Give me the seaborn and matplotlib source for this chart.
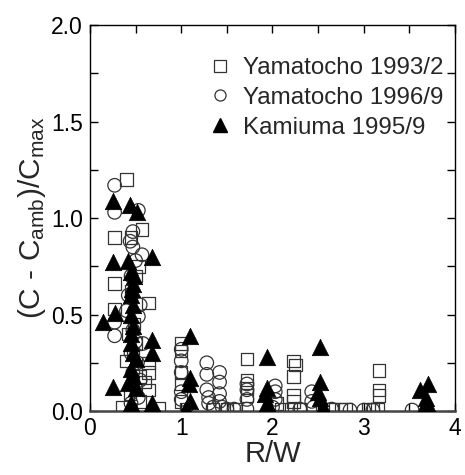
import numpy as np
import pandas as pd
import seaborn as sns
import matplotlib
matplotlib.use("Agg")
import matplotlib.pyplot as plt
from matplotlib.ticker import MultipleLocator, FormatStrFormatter
from matplotlib.lines import Line2D

# Yamatocho 1993/2
sq_x = [0.40, 0.27, 0.45, 0.57, 0.53, 0.27, 0.27, 0.64, 0.45, 0.50, 0.48, 0.40,
        0.64, 0.64, 0.64, 0.55, 0.44, 0.75, 0.50, 0.47, 0.60, 0.42, 0.55, 0.35,
        1.00, 1.00, 1.00, 1.00, 1.00, 1.05, 1.35, 1.50, 1.60,
        1.72, 1.72, 1.72, 1.72, 2.05, 2.10,
        2.23, 2.25, 2.23, 2.23, 2.23, 2.20, 2.30,
        2.55, 2.65, 2.75, 2.80, 3.05, 3.10, 3.17, 3.17, 3.17, 3.15]
sq_y = [1.20, 0.90, 0.90, 0.94, 0.75, 0.66, 0.53, 0.56, 0.62, 0.70, 0.45, 0.26,
        0.25, 0.20, 0.11, 0.18, 0.09, 0.015, 0.35, 0.30, 0.15, 0.40, 0.05, 0.02,
        0.35, 0.31, 0.20, 0.14, 0.05, 0.01, 0.01, 0.01, 0.01,
        0.27, 0.16, 0.12, 0.08, 0.04, 0.01,
        0.26, 0.24, 0.18, 0.08, 0.05, 0.01, 0.01,
        0.01, 0.01, 0.01, 0.01, 0.01, 0.01, 0.21, 0.11, 0.08, 0.01]

# Yamatocho 1996/9
ci_x = [0.27, 0.27, 0.53, 0.47, 0.44, 0.47, 0.57, 0.50, 0.45, 0.42, 0.55, 0.27,
        0.47, 0.53, 0.27, 0.50, 0.45, 0.52, 0.47, 0.55, 0.50, 0.53, 0.45, 0.58, 0.40,
        1.00, 1.00, 1.00, 1.00, 1.00,
        1.28, 1.28, 1.28, 1.30, 1.30, 1.35,
        1.42, 1.42, 1.42, 1.42, 1.45, 1.50, 1.58,
        1.72, 1.72, 1.72, 1.72, 2.03, 2.03, 2.03, 2.00,
        2.30, 2.43, 2.43, 2.45, 2.65, 2.85, 3.00, 3.10, 3.53]
ci_y = [1.17, 1.03, 1.04, 0.93, 0.88, 0.85, 0.81, 0.78, 0.70, 0.60, 0.55, 0.46,
        0.42, 0.49, 0.39, 0.36, 0.30, 0.25, 0.20, 0.16, 0.12, 0.07, 0.04, 0.35, 0.52,
        0.32, 0.26, 0.20, 0.10, 0.06,
        0.25, 0.19, 0.11, 0.07, 0.04, 0.02,
        0.20, 0.15, 0.09, 0.05, 0.02, 0.01, 0.01,
        0.14, 0.11, 0.06, 0.01, 0.13, 0.10, 0.06, 0.02,
        0.01, 0.10, 0.05, 0.02, 0.01, 0.005, 0.005, 0.005, 0.005]

# Kamiuma 1995/9
tr_x = [0.25, 0.44, 0.51, 0.25, 0.42, 0.68, 0.45, 0.47, 0.45, 0.47, 0.14, 0.27,
        0.45, 0.47, 0.45, 0.68, 0.45, 0.47, 0.50, 0.68, 0.45, 0.47, 0.25, 0.42,
        0.50, 0.45, 0.68, 0.46, 0.48,
        1.10, 1.10, 1.08, 1.10, 1.05,
        1.94, 1.94, 1.92, 1.94,
        2.52, 2.52, 2.50, 2.52, 2.55,
        3.62, 3.70, 3.68, 3.70, 3.65]
tr_y = [1.09, 1.07, 1.03, 0.77, 0.78, 0.80, 0.72, 0.66, 0.60, 0.55, 0.46, 0.51,
        0.50, 0.44, 0.40, 0.37, 0.35, 0.30, 0.27, 0.30, 0.22, 0.18, 0.125, 0.145,
        0.12, 0.04, 0.04, 0.63, 0.70,
        0.39, 0.17, 0.14, 0.05, 0.01,
        0.28, 0.12, 0.09, 0.04,
        0.33, 0.15, 0.10, 0.07, 0.02,
        0.11, 0.14, 0.07, 0.03, 0.01]

labels = ["Yamatocho 1993/2", "Yamatocho 1996/9", "Kamiuma 1995/9"]

sns.set_style("ticks")
plt.rcParams["font.family"] = ["Liberation Sans", "DejaVu Sans"]
plt.rcParams["mathtext.fontset"] = "custom"
plt.rcParams["mathtext.rm"] = "Liberation Sans"
plt.rcParams["mathtext.it"] = "Liberation Sans"

fig = plt.figure(figsize=(4.65, 4.75), dpi=100)
ax = fig.add_axes([0.1935, 0.1347, 0.785, 0.8123])

edge = "#333333"
sns.scatterplot(x=sq_x, y=sq_y, ax=ax, marker="s", s=80, facecolor="none",
                edgecolor=edge, linewidth=0.9, zorder=3)
sns.scatterplot(x=ci_x, y=ci_y, ax=ax, marker="o", s=95, facecolor="none",
                edgecolor=edge, linewidth=0.9, zorder=3)
sns.scatterplot(x=tr_x, y=tr_y, ax=ax, marker="^", s=140, color="black",
                edgecolor="black", linewidth=0.5, zorder=4)

ax.set_xlim(0, 4)
ax.set_ylim(0, 2.0)
ax.xaxis.set_major_locator(MultipleLocator(1))
ax.xaxis.set_minor_locator(MultipleLocator(0.5))
ax.yaxis.set_major_locator(MultipleLocator(0.5))
ax.yaxis.set_minor_locator(MultipleLocator(0.25))
ax.yaxis.set_major_formatter(FormatStrFormatter("%.1f"))
ax.tick_params(which="both", direction="in", top=True, right=True,
               labelsize=16.5, colors="black")
ax.tick_params(axis="y", which="both", pad=5)
ax.tick_params(axis="x", which="both", pad=4)
ax.tick_params(which="major", length=6, width=1)
ax.tick_params(which="minor", length=6, width=1)
for side in ["left", "right", "top"]:
    ax.spines[side].set_linewidth(1)
    ax.spines[side].set_color("black")
ax.spines["bottom"].set_linewidth(1.8)
ax.spines["bottom"].set_color("#444444")

ax.set_xlabel("R/W", fontsize=21, labelpad=0)
ax.set_ylabel(r"(C - C$_\mathregular{amb}$)/C$_\mathregular{max}$", fontsize=21.5, labelpad=2)

handles = [
    Line2D([], [], ls="none", marker="s", ms=8, mfc="none", mec=edge, mew=0.9),
    Line2D([], [], ls="none", marker="o", ms=8, mfc="none", mec=edge, mew=0.9),
    Line2D([], [], ls="none", marker="^", ms=10, mfc="black", mec="black"),
]
ax.legend(handles, labels, loc="upper right", frameon=False, fontsize=17.4,
          handletextpad=0.45, labelspacing=0.32, borderaxespad=0.2,
          handlelength=1.0, bbox_to_anchor=(1.008, 0.955))

fig.savefig("out.png", dpi=100)
